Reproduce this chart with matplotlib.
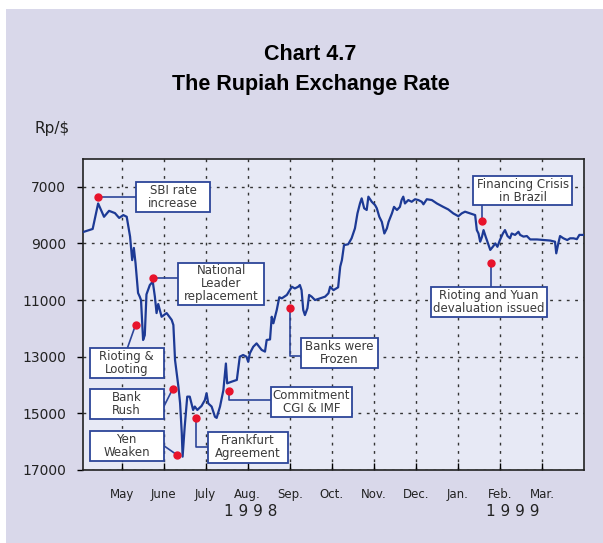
import numpy as np
import matplotlib
matplotlib.use('Agg')
import matplotlib.pyplot as plt
from matplotlib.patches import Rectangle

# x position in months: 1 = May 1998 ... 11 = Mar 1999 (gridlines)
month_pos = [0.08, 0.31, 0.44, 0.58, 0.70, 0.84, 0.94, 1.04, 1.12, 1.20, 1.25, 1.29, 1.33, 1.39, 1.43,
             1.46, 1.51, 1.55, 1.59, 1.67, 1.74, 1.79, 1.83, 1.87, 1.95, 2.07, 2.19, 2.23, 2.27,
             2.35, 2.39, 2.43, 2.45, 2.50, 2.56, 2.62, 2.70, 2.74, 2.80, 2.90, 2.98, 3.02, 3.06,
             3.14, 3.22, 3.26, 3.34, 3.42, 3.48, 3.51, 3.62, 3.74, 3.81, 3.89, 3.97, 4.01, 4.05,
             4.13, 4.21, 4.33, 4.41, 4.45, 4.53, 4.57, 4.61, 4.69, 4.75, 4.81, 4.93, 5.00, 5.05,
             5.12, 5.20, 5.24, 5.28, 5.32, 5.36, 5.42, 5.46, 5.52, 5.60, 5.72, 5.84, 5.92, 5.96,
             6.04, 6.15, 6.20, 6.24, 6.29, 6.39, 6.47, 6.55, 6.61, 6.67, 6.71, 6.77, 6.83, 6.87,
             6.95, 7.03, 7.07, 7.13, 7.19, 7.25, 7.31, 7.35, 7.43, 7.48, 7.55, 7.62, 7.66, 7.70,
             7.74, 7.82, 7.90, 7.98, 8.06, 8.14, 8.18, 8.26, 8.38, 8.50, 8.65, 8.77, 8.89, 9.01,
             9.09, 9.17, 9.29, 9.41, 9.45, 9.49, 9.53, 9.57, 9.61, 9.66, 9.73, 9.77, 9.83, 9.89,
             9.94, 10.00, 10.07, 10.12, 10.18, 10.24, 10.28, 10.36, 10.44, 10.48, 10.56, 10.64,
             10.72, 10.88, 11.04, 11.20, 11.31, 11.34, 11.39, 11.43, 11.51, 11.60, 11.67, 11.75,
             11.83, 11.89, 11.99]
rate = [8600, 8490, 7590, 8060, 7850, 7930, 8100, 8000, 8060, 8760, 9590, 9160, 9700, 10750, 10880,
        11000, 12410, 12240, 10800, 10470, 10350, 10880, 11460, 11140, 11590, 11460, 11700, 11880, 13120,
        14060, 14640, 15700, 16530, 15470, 14410, 14410, 14880, 14760, 14880, 14740, 14530, 14290, 14650,
        14760, 15120, 15160, 14760, 14180, 13240, 13940, 13880, 13820, 13000, 12940, 13000, 13180, 12880,
        12650, 12530, 12760, 12820, 12410, 12390, 11590, 11820, 11350, 10900, 10940, 10820, 10650, 10530,
        10590, 10530, 10470, 10650, 11350, 11530, 11290, 10820, 10880, 11000, 10940, 10880, 10760, 10530,
        10650, 10550, 9820, 9590, 9060, 9030, 8820, 8470, 7940, 7590, 7410, 7760, 7820, 7350,
        7530, 7650, 7760, 8060, 8240, 8650, 8470, 8240, 7940, 7710, 7820, 7710, 7470, 7350,
        7590, 7470, 7530, 7440, 7470, 7530, 7620, 7440, 7470, 7590, 7710, 7800, 7940, 8040,
        7940, 7880, 7940, 8000, 8530, 8650, 8940, 8780, 8530, 8760, 9060, 9230, 9120, 9000,
        9120, 8880, 8650, 8530, 8740, 8820, 8650, 8700, 8590, 8700, 8760, 8740,
        8860, 8860, 8880, 8900, 8940, 9350, 8990, 8740, 8820, 8880, 8820, 8820,
        8850, 8700, 8700]

months = ['May', 'June', 'July', 'Aug.', 'Sep.', 'Oct.', 'Nov.', 'Dec.', 'Jan.', 'Feb.', 'Mar.']
yticks = [7000, 9000, 11000, 13000, 15000, 17000]

# events: label, red dot (x, y), connector path, box (x0, x1, y0, y1)
events = [
    ('SBI rate\nincrease', (0.43, 7360), [(0.43, 7360), (1.34, 7360)], (1.34, 3.10, 6845, 7880)),
    ('National\nLeader\nreplacement', (1.74, 10220), [(1.74, 10220), (2.35, 10220)], (2.35, 4.39, 9680, 11175)),
    ('Rioting &\nLooting', (1.33, 11880), [(1.33, 11880), (1.14, 12680)], (0.24, 2.00, 12680, 13760)),
    ('Bank\nRush', (2.21, 14150), [(2.21, 14150), (2.00, 14770)], (0.24, 2.00, 14150, 15200)),
    ('Yen\nWeaken', (2.32, 16470), [(2.32, 16470), (2.00, 16140)], (0.24, 2.00, 15610, 16670)),
    ('Frankfurt\nAgreement', (2.78, 15180), [(2.78, 15180), (2.78, 16180), (3.05, 16180)], (3.05, 4.96, 15650, 16760)),
    ('Commitment\nCGI & IMF', (3.56, 14210), [(3.56, 14210), (3.56, 14530), (4.55, 14530)], (4.55, 6.48, 14080, 15140)),
    ('Banks were\nFrozen', (5.00, 11270), [(5.00, 11270), (5.00, 12980), (5.27, 12980)], (5.27, 7.10, 12350, 13410)),
    ('Financing Crisis\nin Brazil', (9.57, 8200), [(9.57, 8200), (9.57, 7650)], (9.37, 11.71, 6620, 7650)),
    ('Rioting and Yuan\ndevaluation issued', (9.78, 9680), [(9.78, 9680), (9.78, 10550)], (8.35, 11.13, 10550, 11590)),
]

bg = '#d9d8ea'
face = '#e7e9f5'
blue = '#1d3a95'
boxblue = '#2c4599'
red = '#e8132b'
txt = '#3a3a3a'

plt.rcParams['font.family'] = ['DejaVu Sans']

fig = plt.figure(figsize=(6.03, 5.43), dpi=100)
fig.patch.set_facecolor('white')
fig.patches.append(Rectangle((6/603, 0), 1, 1 - 9/543, transform=fig.transFigure,
                             facecolor=bg, edgecolor='none', zorder=-10))

ax = fig.add_axes([83/603, 1 - 470/543, 501/603, 311/543])
ax.set_facecolor(face)
ax.plot(month_pos, rate, color=blue, lw=1.6, zorder=3)

ax.set_xlim(0.08, 12)
ax.set_ylim(17000, 6020)
ax.set_yticks(yticks)
ax.set_yticklabels([str(v) for v in yticks], fontsize=10, color='#222222')
ax.set_xticks(range(1, 12))
ax.set_xticklabels(months, fontsize=8.5, color='#222222')
ax.tick_params(axis='y', direction='out', length=4, width=1, pad=8)
ax.tick_params(axis='x', direction='in', length=5, width=1, pad=13)
ax.grid(True, color='#333333', lw=1, linestyle=(0, (2, 4)))
for s in ax.spines.values():
    s.set_color('#222222')
    s.set_linewidth(1.2)

trans = ax.get_xaxis_transform()
ax.text(4.08, -0.135, '1 9 9 8', transform=trans, ha='center', va='center', fontsize=11, color='#222222')
ax.text(10.31, -0.135, '1 9 9 9', transform=trans, ha='center', va='center', fontsize=11, color='#222222')

for label, dot, path, box in events:
    x0, x1, y0, y1 = box
    px = [p[0] for p in path]
    py = [p[1] for p in path]
    ax.plot(px, py, color=boxblue, lw=1.2, zorder=4)
    ax.add_patch(Rectangle((x0, y0), x1 - x0, y1 - y0, facecolor='white', edgecolor=boxblue,
                           lw=1.3, zorder=5))
    ax.text((x0 + x1) / 2, (y0 + y1) / 2, label, ha='center', va='center', fontsize=8.5,
            color=txt, linespacing=1.0, zorder=6)
    ax.plot(dot[0], dot[1], 'o', color=red, ms=5, zorder=7)

fig.text(310/603, 1 - 55/543, 'Chart 4.7', ha='center', va='center', fontsize=15.5,
         fontweight='bold', family='Liberation Sans')
fig.text(311/603, 1 - 85/543, 'The Rupiah Exchange Rate', ha='center', va='center', fontsize=15.5,
         fontweight='bold', family='Liberation Sans')
fig.text(52/603, 1 - 129/543, 'Rp/$', ha='center', va='center', fontsize=11, color='#222222')

fig.savefig('out.png', dpi=100, facecolor=fig.get_facecolor())
